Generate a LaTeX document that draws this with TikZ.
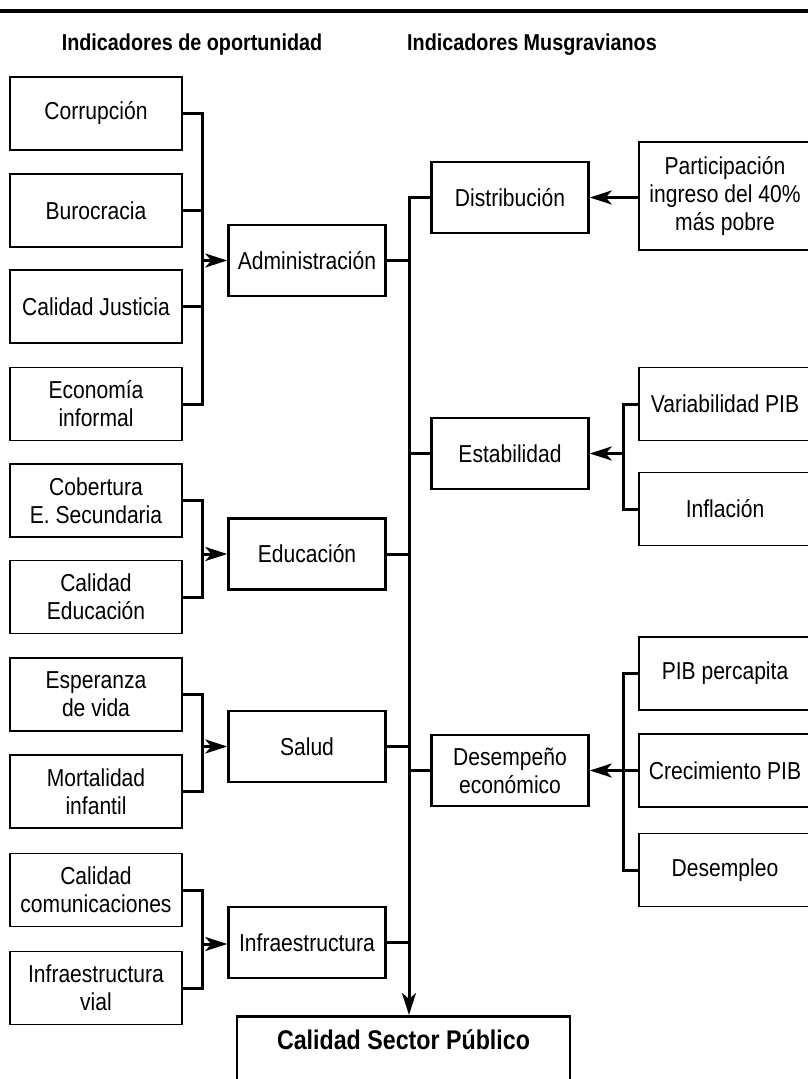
\documentclass[tikz,border=0pt]{standalone}
\usepackage{fontspec}
\setmainfont[FakeStretch=0.86]{Liberation Sans}
\usetikzlibrary{arrows.meta,calc}
\begin{document}
\begin{tikzpicture}[x=1pt,y=-1pt,
  txt/.style={font=\fontsize{24.5}{28}\selectfont, align=center},
  lbox/.style={txt, draw, line width=1.7pt, minimum width=172pt, minimum height=73pt, inner sep=2pt},
  mbox/.style={txt, draw, line width=2.5pt, minimum width=157pt, minimum height=71pt, inner sep=2pt},
  conn/.style={line width=3pt},
  arr/.style={conn, -{Stealth[length=22pt,width=14pt,inset=6pt]}},
  head/.style={font=\fontsize{23}{26}\selectfont\bfseries},
]
\useasboundingbox (0,0) rectangle (808,1079);
\clip (0,0) rectangle (808,1079);
\draw[line width=3.2pt] (0,11) -- (808,11);

\node[head] (h1) at (192,45) {Indicadores de oportunidad};
\node[head] (h2) at (532,45) {Indicadores Musgravianos};

% left column
\node[lbox] (corr) at (96,113.5) {Corrupción};
\node[lbox] (buro) at (96,210.5) {Burocracia};
\node[lbox] (just) at (96,306.5) {Calidad Justicia};
\node[lbox] (econ) at (96,404) {Economía\\informal};
\node[lbox] (cob)  at (96,500.5) {Cobertura\\E. Secundaria};
\node[lbox] (caled) at (96,597) {Calidad\\Educación};
\node[lbox] (esp)  at (96,694.5) {Esperanza\\de vida};
\node[lbox] (mort) at (96,791.5) {Mortalidad\\infantil};
\node[lbox] (com)  at (96,890) {Calidad\\comunicaciones};
\node[lbox] (vial) at (96,988) {Infraestructura\\vial};

% middle left
\node[mbox] (adm)   at (307,260.5) {Administración};
\node[mbox] (edu)   at (307,554) {Educación};
\node[mbox] (salud) at (307,746.5) {Salud};
\node[mbox] (infra) at (307,942.5) {Infraestructura};

% middle right
\node[mbox] (dist)  at (510,197.5) {Distribución};
\node[mbox] (estab) at (510,453.5) {Estabilidad};
\node[mbox] (desem) at (510,770.5) {Desempeño\\económico};

% right column
\node[lbox, minimum height=108pt] (part) at (725,196) {Participación\\ingreso del 40\%\\más pobre};
\node[lbox] (var)   at (725,404) {Variabilidad PIB};
\node[lbox] (infl)  at (725,509) {Inflación};
\node[lbox] (pibpc) at (725,673.5) {PIB percapita};
\node[lbox] (crec)  at (725,770.5) {Crecimiento PIB};
\node[lbox] (desemp) at (725,870) {Desempleo};

% bottom
\node[draw, line width=2.5pt, anchor=north, minimum width=333pt,
      font=\fontsize{27}{30}\selectfont\bfseries, text height=27pt, text depth=40pt, inner ysep=6pt]
      (csp) at (403.5,1015) {Calidad Sector Público};

% bracket coordinates
\coordinate (bA) at (202,260.5);
\coordinate (bE) at (202,554);
\coordinate (bS) at (202,746.5);
\coordinate (bI) at (202,944);
\coordinate (spine) at (409,197.5);
\coordinate (bR1) at (623,453.5);
\coordinate (bR2) at (623,770.5);

% administracion bracket
\draw[conn] (corr.east) -| (bA);
\draw[conn] (econ.east) -| (bA);
\draw[conn] (buro.east) -- (buro.east -| bA);
\draw[conn] (just.east) -- (just.east -| bA);
\draw[arr] (bA) -- (bA -| adm.west);

% educacion
\draw[conn] (cob.east) -| (bE);
\draw[conn] (caled.east) -| (bE);
\draw[arr] (bE) -- (bE -| edu.west);

% salud
\draw[conn] (esp.east) -| (bS);
\draw[conn] (mort.east) -| (bS);
\draw[arr] (bS) -- (bS -| salud.west);

% infraestructura
\draw[conn] (com.east) -| (bI);
\draw[conn] (vial.east) -| (bI);
\draw[arr] (bI) -- (bI -| infra.west);

% spine
\draw[arr] (dist.west) -| (spine |- csp.north);
\draw[conn] (adm.east) -- (adm.east -| spine);
\draw[conn] (edu.east) -- (edu.east -| spine);
\draw[conn] (salud.east) -- (salud.east -| spine);
\draw[conn] (infra.east) -- (infra.east -| spine);
\draw[conn] (estab.west) -- (estab.west -| spine);
\draw[conn] (desem.west) -- (desem.west -| spine);

% right side
\draw[arr] (part.west |- dist.east) -- (dist.east);
\draw[conn] (var.west) -| (bR1);
\draw[conn] (infl.west) -| (bR1);
\draw[arr] (bR1) -- (bR1 -| estab.east);
\draw[conn] (pibpc.west) -| (bR2);
\draw[conn] (desemp.west) -| (bR2);
\draw[arr] (crec.west) -- (desem.east);
\end{tikzpicture}
\end{document}
